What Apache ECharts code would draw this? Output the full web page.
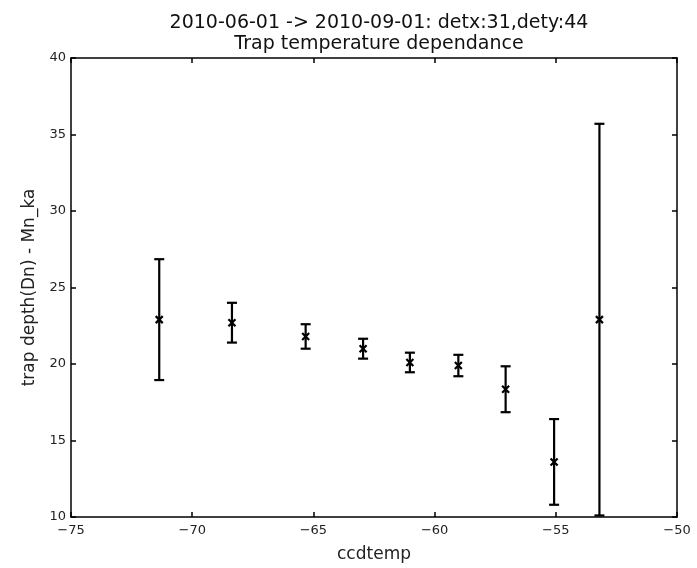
<!DOCTYPE html>
<html>
<head>
<meta charset="utf-8">
<script src="https://cdn.jsdelivr.net/npm/echarts@6/dist/echarts.min.js"></script>
<style>
  html, body { margin: 0; padding: 0; background: #fff; }
  #chart { width: 697px; height: 568px; }
</style>
</head>
<body>
<div id="chart"></div>
<script>
// CCD temperature (deg C) for each measurement bin
var temps = [-71.36, -68.36, -65.32, -62.95, -61.02, -59.02, -57.07, -55.07, -53.2];
// mean trap depth (Dn) relative to Mn_ka
var depths = [22.9, 22.7, 21.8, 21.0, 20.1, 19.9, 18.35, 13.6, 22.9];
// symmetric error (one sigma)
var errors = [3.95, 1.3, 0.8, 0.65, 0.64, 0.7, 1.5, 2.8, 12.8];

var xTicks = [-75, -70, -65, -60, -55, -50];
var yTicks = [10, 15, 20, 25, 30, 35, 40];

var titleLine1 = '2010-06-01 -> 2010-09-01: detx:31,dety:44';
var titleLine2 = 'Trap temperature dependance';
var xName = 'ccdtemp';
var yName = 'trap depth(Dn) - Mn_ka';

var FONT = '"DejaVu Sans", sans-serif';

function fmt(v) {
  return v < 0 ? '\u2212' + Math.abs(v) : String(v);
}

var points = temps.map(function (t, i) { return [t, depths[i], errors[i]]; });

var chart = echarts.init(document.getElementById('chart'), null, { renderer: 'canvas' });

var axisLine = { show: true, onZero: false, lineStyle: { color: '#000', width: 1.5 } };
var tick = { show: true, inside: true, length: 5, lineStyle: { color: '#000', width: 1.5 } };

chart.setOption({
  animation: false,
  backgroundColor: '#fff',
  title: [
    { text: titleLine1, left: 374, top: 9, textAlign: 'center',
      textStyle: { fontFamily: FONT, fontSize: 19, fontWeight: 'normal', color: '#111' } },
    { text: titleLine2, left: 374, top: 30, textAlign: 'center',
      textStyle: { fontFamily: FONT, fontSize: 19, fontWeight: 'normal', color: '#111' } }
  ],
  grid: { left: 71, right: 20, top: 58, bottom: 42, containLabel: false },
  xAxis: [
    {
      type: 'value', min: -75, max: -50, interval: 5, position: 'bottom',
      name: xName, nameLocation: 'middle', nameGap: 29,
      nameTextStyle: { fontFamily: FONT, fontSize: 17, color: '#222' },
      axisLine: axisLine, axisTick: tick, splitLine: { show: false },
      axisLabel: { margin: 7, fontFamily: FONT, fontSize: 13, color: '#222', formatter: fmt }
    },
    {
      type: 'value', min: -75, max: -50, interval: 5, position: 'top',
      axisLine: axisLine, axisTick: tick, splitLine: { show: false },
      axisLabel: { show: false }
    }
  ],
  yAxis: [
    {
      type: 'value', min: 10, max: 40, interval: 5, position: 'left',
      name: yName, nameLocation: 'middle', nameGap: 28, nameRotate: 90,
      nameTextStyle: { fontFamily: FONT, fontSize: 17, color: '#222' },
      axisLine: axisLine, axisTick: tick, splitLine: { show: false },
      axisLabel: { margin: 5, fontFamily: FONT, fontSize: 13, color: '#222', formatter: fmt }
    },
    {
      type: 'value', min: 10, max: 40, interval: 5, position: 'right',
      axisLine: axisLine, axisTick: tick, splitLine: { show: false },
      axisLabel: { show: false }
    }
  ],
  series: [
    {
      type: 'custom',
      xAxisIndex: 0, yAxisIndex: 0,
      clip: true,
      data: points,
      renderItem: function (params, api) {
        var x = api.value(0), y = api.value(1), e = api.value(2);
        var c = api.coord([x, y]);
        var hi = api.coord([x, y + e]);
        var lo = api.coord([x, y - e]);
        var cap = 5, m = 3.5;
        var st = { stroke: '#000', lineWidth: 2.2 };
        return {
          type: 'group',
          children: [
            { type: 'line', shape: { x1: hi[0], y1: hi[1], x2: lo[0], y2: lo[1] }, style: st },
            { type: 'line', shape: { x1: hi[0] - cap, y1: hi[1], x2: hi[0] + cap, y2: hi[1] }, style: st },
            { type: 'line', shape: { x1: lo[0] - cap, y1: lo[1], x2: lo[0] + cap, y2: lo[1] }, style: st },
            { type: 'line', shape: { x1: c[0] - m, y1: c[1] - m, x2: c[0] + m, y2: c[1] + m }, style: st },
            { type: 'line', shape: { x1: c[0] - m, y1: c[1] + m, x2: c[0] + m, y2: c[1] - m }, style: st }
          ]
        };
      }
    }
  ]
});
</script>
</body>
</html>
